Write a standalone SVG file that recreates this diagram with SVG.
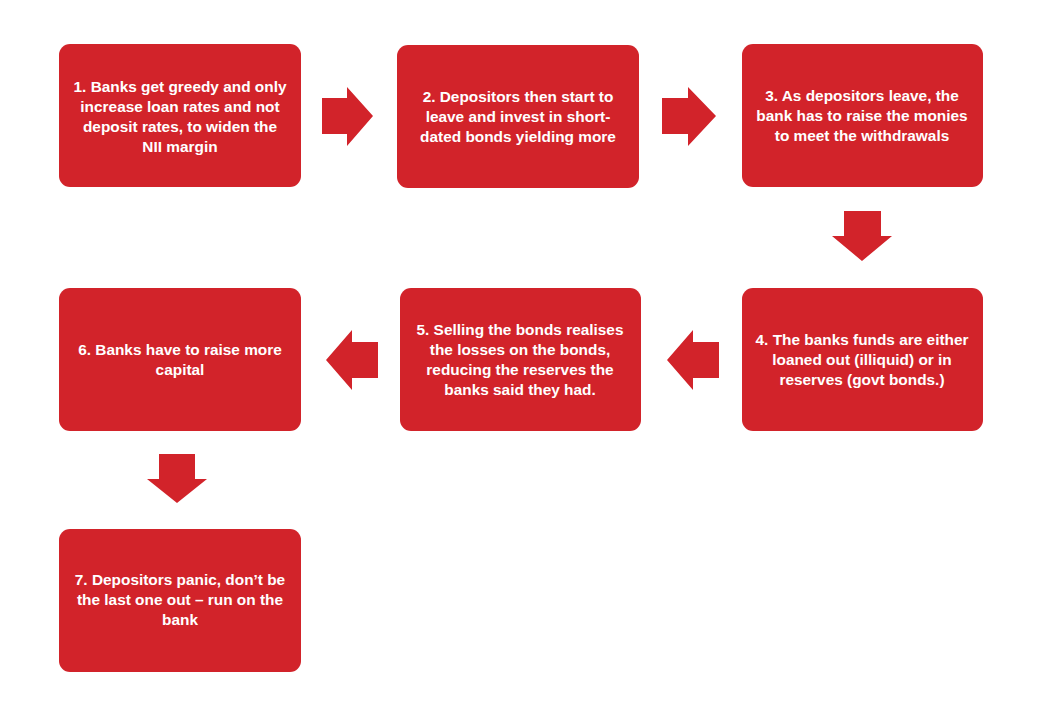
<svg xmlns="http://www.w3.org/2000/svg" width="1057" height="714" viewBox="0 0 1057 714">
<style>
.box{fill:#D2232A;}
.arr{fill:#D2232A;}
text{font-family:"Liberation Sans",Arial,sans-serif;font-weight:bold;font-size:15.4px;fill:#FFFFFF;text-anchor:middle;}
</style>
<rect x="0" y="0" width="1057" height="714" fill="#FFFFFF"/>
<g id="connectors">
<polygon class="arr" points="322,98 347,98 347,87 373,116 347,146 347,134 322,134"/>
<polygon class="arr" points="662,98 688,98 688,87 716,116 688,146 688,134 662,134"/>
<polygon class="arr" points="844,211 881,211 881,236 892,236 862,261 832,236 844,236"/>
<polygon class="arr" points="719,342 693,342 693,330 667,360 693,390 693,378 719,378"/>
<polygon class="arr" points="378,342 352,342 352,330 326,360 352,390 352,378 378,378"/>
<polygon class="arr" points="159,454 195,454 195,479 207,479 177,503 147,479 159,479"/>
</g>
<g id="node1">
<rect class="box" x="59" y="44" width="242" height="143" rx="11"/>
<text x="180" y="92">1. Banks get greedy and only</text>
<text x="180" y="112">increase loan rates and not</text>
<text x="180" y="132">deposit rates, to widen the</text>
<text x="180" y="152">NII margin</text>
</g>
<g id="node2">
<rect class="box" x="397" y="45" width="242" height="143" rx="11"/>
<text x="518" y="102">2. Depositors then start to</text>
<text x="518" y="122">leave and invest in short-</text>
<text x="518" y="142">dated bonds yielding more</text>
</g>
<g id="node3">
<rect class="box" x="742" y="44" width="241" height="143" rx="11"/>
<text x="862" y="101">3. As depositors leave, the</text>
<text x="862" y="121">bank has to raise the monies</text>
<text x="862" y="141">to meet the withdrawals</text>
</g>
<g id="node4">
<rect class="box" x="742" y="288" width="241" height="143" rx="11"/>
<text x="862" y="345">4. The banks funds are either</text>
<text x="862" y="365">loaned out (illiquid) or in</text>
<text x="862" y="385">reserves (govt bonds.)</text>
</g>
<g id="node5">
<rect class="box" x="400" y="288" width="241" height="143" rx="11"/>
<text x="520" y="335">5. Selling the bonds realises</text>
<text x="520" y="355">the losses on the bonds,</text>
<text x="520" y="375">reducing the reserves the</text>
<text x="520" y="395">banks said they had.</text>
</g>
<g id="node6">
<rect class="box" x="59" y="288" width="242" height="143" rx="11"/>
<text x="180" y="355">6. Banks have to raise more</text>
<text x="180" y="375">capital</text>
</g>
<g id="node7">
<rect class="box" x="59" y="529" width="242" height="143" rx="11"/>
<text x="180" y="585">7. Depositors panic, don’t be</text>
<text x="180" y="605">the last one out – run on the</text>
<text x="180" y="625">bank</text>
</g>
</svg>
